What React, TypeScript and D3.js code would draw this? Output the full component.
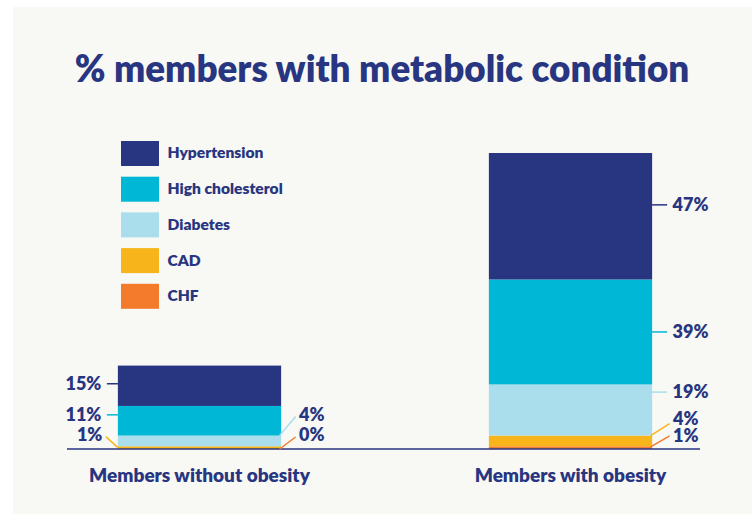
import React from "react";
import * as d3 from "d3";

const categories = ["Members without obesity", "Members with obesity"];
const seriesNames = ["Hypertension", "High cholesterol", "Diabetes", "CAD", "CHF"];
const hypertension = [15, 47];
const highCholesterol = [11, 39];
const diabetes = [4, 19];
const cad = [1, 4];
const chf = [0, 1];
const seriesColors = ["#283580", "#00b8d5", "#aadeec", "#f8b51b", "#f47a2c"];
const titleText = "% members with metabolic condition";

const W = 752;
const H = 514;
const NAVY = "#283580";
const FONT = "Lato, 'Open Sans', sans-serif";

// label placement (layout only): side, fraction within segment for leader start, leader end offsets
type Lay = { side: "left" | "right"; f: number; dx?: number; dy?: number; ty?: number };
const labelLayout: Record<string, Lay>[] = [
  {
    Hypertension: { side: "left", f: 0.55 },
    "High cholesterol": { side: "left", f: 0.7 },
    Diabetes: { side: "right", f: 1, dx: 16, dy: -19, ty: -2 },
    CAD: { side: "left", f: 0.5, dx: 12, dy: -11, ty: -2 },
    CHF: { side: "right", f: 0.4, dx: 16, dy: -12, ty: -2 },
  },
  {
    Hypertension: { side: "right", f: 0.59 },
    "High cholesterol": { side: "right", f: 0.5 },
    Diabetes: { side: "right", f: 0.85 },
    CAD: { side: "right", f: 1, dx: 19, dy: -12, ty: -5 },
    CHF: { side: "right", f: 0.8, dx: 19, dy: -11 },
  },
];

export default function App() {
  const values: Record<string, number[]> = {
    Hypertension: hypertension,
    "High cholesterol": highCholesterol,
    Diabetes: diabetes,
    CAD: cad,
    CHF: chf,
  };
  const rows = categories.map((c, i) => {
    const r: any = { category: c };
    seriesNames.forEach((s) => (r[s] = values[s][i]));
    return r;
  });
  const stackKeys = [...seriesNames].reverse();
  const stacked = d3.stack<any>().keys(stackKeys)(rows);
  const colorOf = d3.scaleOrdinal<string, string>().domain(seriesNames).range(seriesColors);

  const x = d3
    .scaleBand<string>()
    .domain(categories)
    .range([14, 756])
    .paddingInner(0.56)
    .paddingOuter(0.28);
  const y = d3.scaleLinear().domain([0, 110]).range([449, 153]);
  const bw = x.bandwidth();

  const labels: any[] = [];
  stacked.forEach((layer) => {
    const key = layer.key;
    layer.forEach((d, i) => {
      const lay = labelLayout[i][key];
      const x0 = x(categories[i])!;
      const v0 = d[0];
      const v1 = d[1];
      const sy = y(v0 + lay.f * (v1 - v0));
      const diag = lay.dx !== undefined;
      let sx: number, ex: number;
      if (lay.side === "left") {
        sx = x0;
        ex = x0 - (lay.dx ?? 11);
      } else {
        sx = x0 + bw - (diag ? 1.5 : 0);
        ex = x0 + bw + (diag ? (lay.dx ?? 15) - 1.5 : 15);
      }
      const ey = sy + (lay.dy ?? 0);
      const gap = diag ? 3.5 : 5.5;
      labels.push({
        key: key + i,
        color: colorOf(key),
        sx,
        sy,
        ex,
        ey,
        tx: lay.side === "left" ? ex - gap : ex + gap,
        ty: ey + (lay.ty ?? 0),
        anchor: lay.side === "left" ? "end" : "start",
        text: `${values[key][i]}%`,
      });
    });
  });

  return (
    <svg
      width={W}
      height={H}
      style={{ position: "absolute", left: 0, top: 0, fontFamily: FONT }}
    >
      <rect x={0} y={0} width={W} height={H} fill="#ffffff" />
      <rect x={13} y={7} width={W - 13} height={H - 7} fill="#f8f8f4" />
      <text
        x={382}
        y={82}
        textAnchor="middle"
        fontSize={36.8}
        fontWeight={800}
        fill={NAVY}
      >
        {titleText}
      </text>

      {/* legend */}
      {seriesNames.map((s, i) => (
        <g key={s} transform={`translate(121, ${141 + i * 35.7})`}>
          <rect width={38} height={25} fill={colorOf(s)} />
          <text x={46.5} y={12} dy="0.35em" fontSize={15.6} fontWeight={800} fill={NAVY}>
            {s}
          </text>
        </g>
      ))}

      {/* bars */}
      {stacked.map((layer) => (
        <g key={layer.key} fill={colorOf(layer.key)}>
          {layer.map((d, i) => (
            <rect
              key={i}
              x={x(categories[i])}
              y={y(d[1])}
              width={bw}
              height={Math.max(0, y(d[0]) - y(d[1]))}
            />
          ))}
        </g>
      ))}

      {/* baseline */}
      <line x1={67} x2={700} y1={y(0)} y2={y(0)} stroke={NAVY} strokeWidth={1.5} />

      {/* labels */}
      {labels.map((l) => (
        <g key={l.key}>
          <line x1={l.sx} y1={l.sy} x2={l.ex} y2={l.ey} stroke={l.color} strokeWidth={1.5} />
          <text
            x={l.tx}
            y={l.ty}
            dy="0.35em"
            textAnchor={l.anchor}
            fontSize={18}
            fontWeight={800}
            fill={NAVY}
          >
            {l.text}
          </text>
        </g>
      ))}

      {/* category labels */}
      {categories.map((c) => (
        <text
          key={c}
          x={x(c)! + bw / 2}
          y={482}
          textAnchor="middle"
          fontSize={19}
          fontWeight={800}
          fill={NAVY}
        >
          {c}
        </text>
      ))}
    </svg>
  );
}
